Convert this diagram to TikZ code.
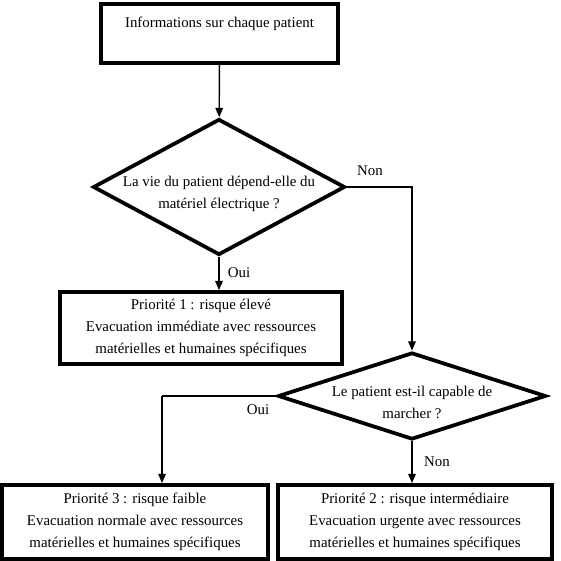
\documentclass[tikz,border=0pt]{standalone}
\usepackage{fontspec}
\setmainfont{Liberation Serif}
\usetikzlibrary{shapes.geometric,arrows.meta}
\def\px{0.03cm}
\tikzset{
	boite/.style={draw, line width=3.2pt, inner sep=0pt, align=center},
	losange/.style={draw, diamond, line width=3.2pt, inner sep=0pt},
	texte/.style={align=center, inner sep=0pt},
	fleche/.style={line width=1.2pt, -{Triangle[length=8pt,width=6.5pt]}},
	lien/.style={line width=1.2pt}
}

\begin{document}
\begin{tikzpicture}[x=\px, y=-\px, font=\fontsize{12.7}{18.7}\selectfont]
			%%%%% START %%%%%
			
			\useasboundingbox (0, 0) rectangle (560, 561);
			
			\node[boite, minimum width=237*\px, minimum height=59*\px] (info) at (219.5, 33.5) {};
			\node[texte] (infotxt) at (219.5, 24) {Informations sur chaque patient};
			
			\node[losange, minimum width=252*\px, minimum height=136*\px] (vie) at (219, 187) {};
			\node[texte] (vietxt) at (219, 194) {La vie du patient dépend-elle du\\matériel électrique ?};
			
			\node[boite, minimum width=282*\px, minimum height=72*\px] (prio1) at (201, 328) {Priorité 1 : risque élevé\\Evacuation immédiate avec ressources\\matérielles et humaines spécifiques};
			
			\node[losange, minimum width=268*\px, minimum height=87*\px] (marche) at (412, 396) {};
			\node[texte] (marchetxt) at (412, 402) {Le patient est-il capable de\\marcher ?};
			
			\node[boite, minimum width=266*\px, minimum height=74*\px] (prio3) at (135, 522) {Priorité 3 : risque faible\\Evacuation normale avec ressources\\matérielles et humaines spécifiques};
			\node[boite, minimum width=274*\px, minimum height=74*\px] (prio2) at (415, 522) {Priorité 2 : risque intermédiaire\\Evacuation urgente avec ressources\\matérielles et humaines spécifiques};
			
			\coordinate (coude) at (162, 396);
			
			\draw[fleche] (info) -- (vie);
			\draw[fleche] (vie.south) -- (vie.south |- prio1.north);
			\draw[fleche] (vie.east) -| (marche.north);
			\draw[lien] (marche.west) -- (coude);
			\draw[fleche] (coude) -- (coude |- prio3.north);
			\draw[fleche] (marche.south) -- (marche.south |- prio2.north);
			
			\node[texte] (non1) at (370, 171) {Non};
			\node[texte] (oui1) at (239, 273) {Oui};
			\node[texte] (oui2) at (258, 410) {Oui};
			\node[texte] (non2) at (437, 462) {Non};
			
			%%%%% END %%%%%
\end{tikzpicture}
\end{document}
